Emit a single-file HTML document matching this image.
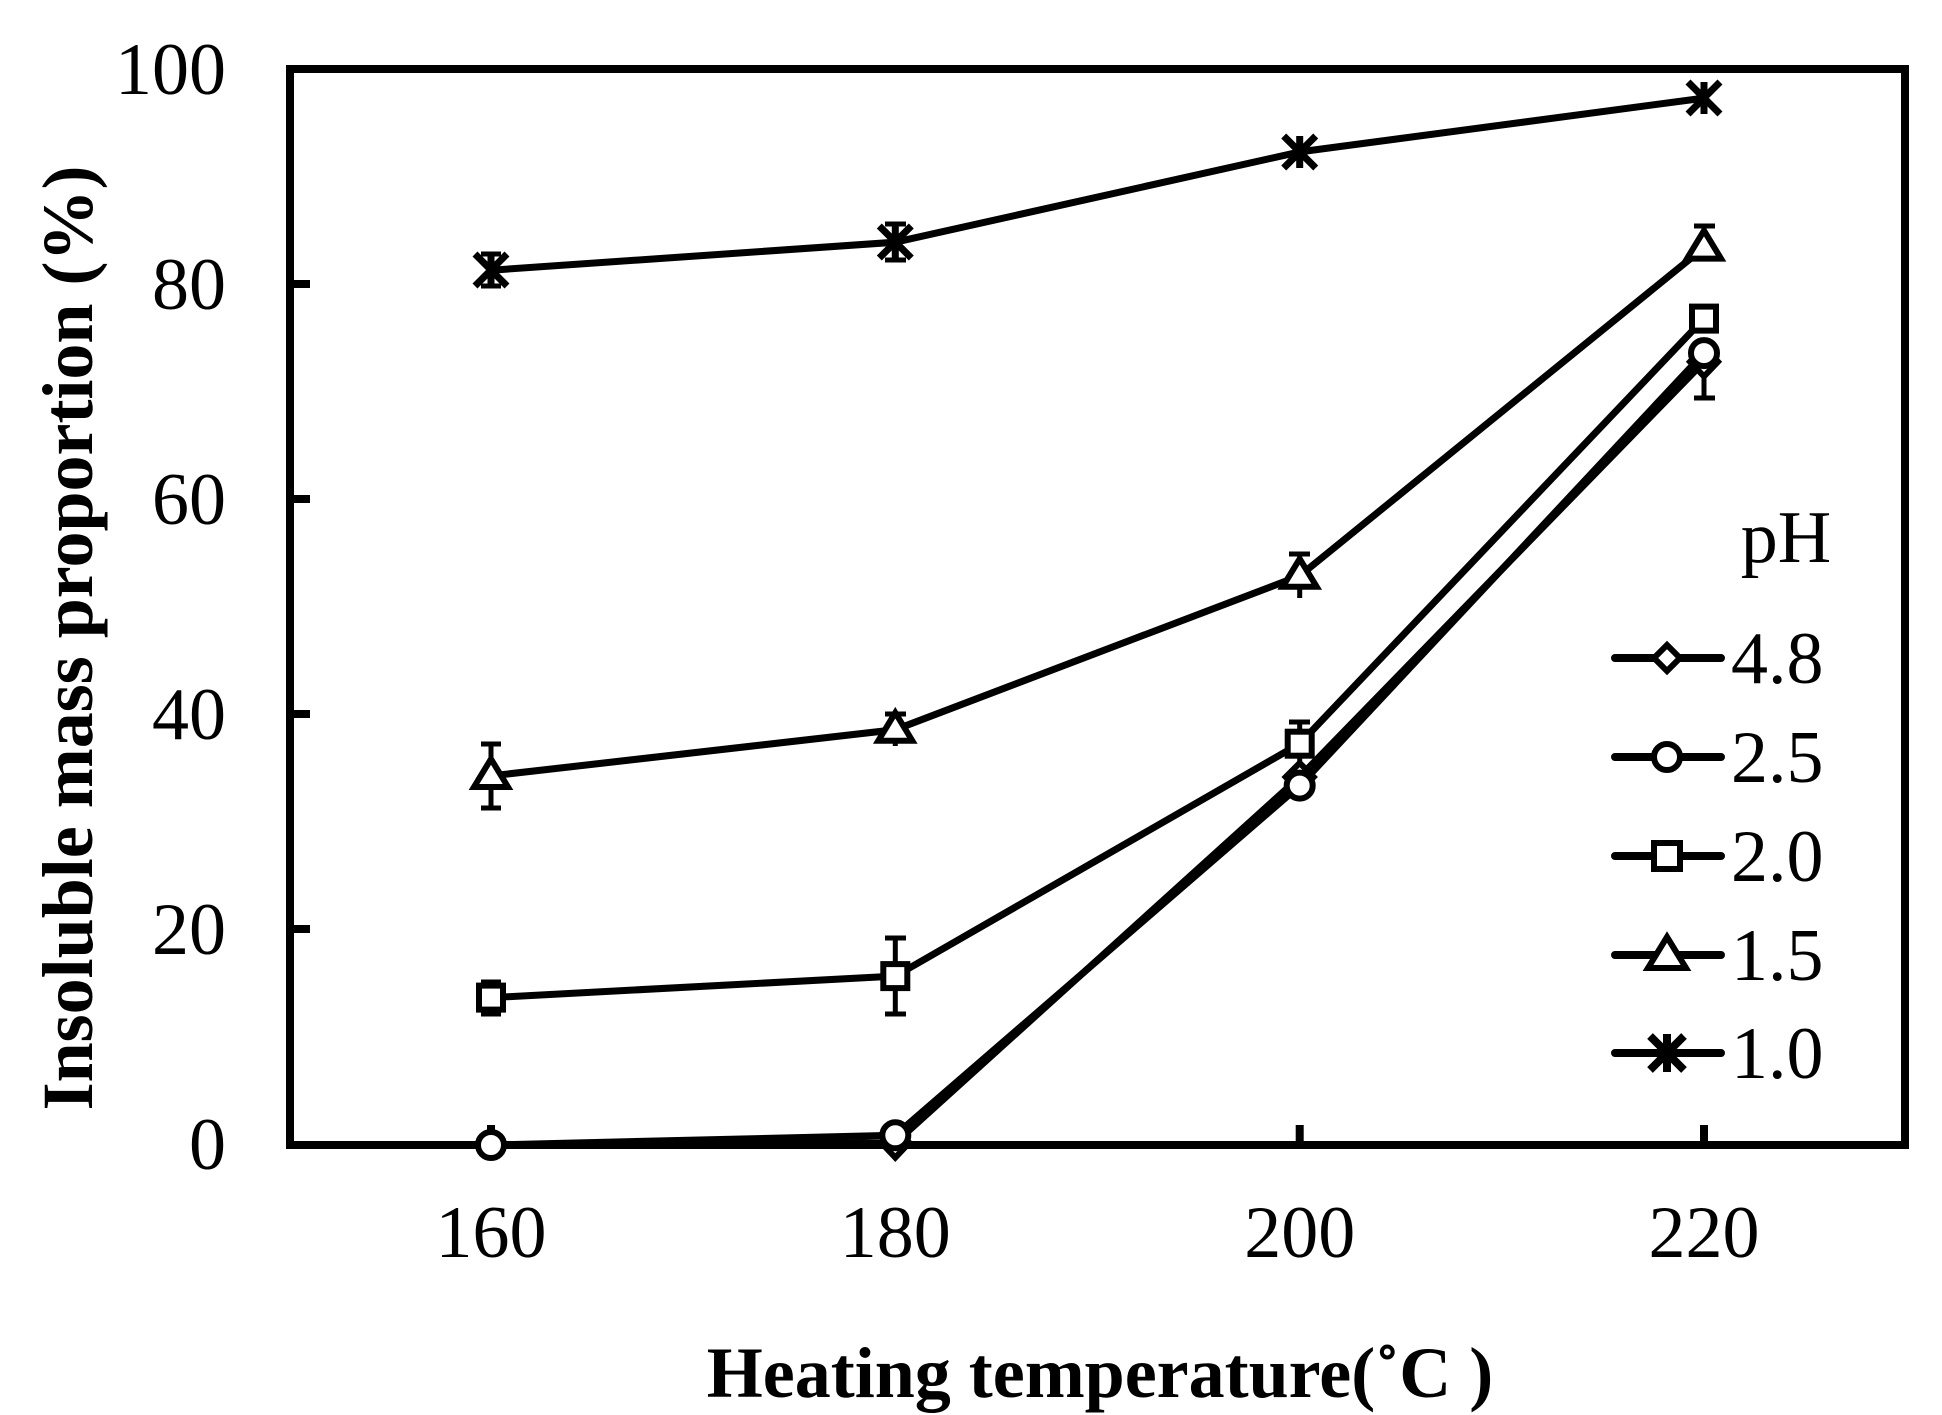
<!DOCTYPE html>
<html><head><meta charset="utf-8"><style>body{margin:0;background:#fff}svg{display:block}</style></head>
<body>
<svg width="1942" height="1415" viewBox="0 0 1942 1415" xmlns="http://www.w3.org/2000/svg" font-family="Liberation Serif, serif">
<rect width="1942" height="1415" fill="#fff"/>
<g stroke="#000" stroke-width="8" fill="none">
<rect x="290" y="69" width="1615" height="1076"/>
<path d="M290 284h20M290 499h20M290 714h20M290 929h20M491 1145v-20M895.3 1145v-20M1299.7 1145v-20M1704 1145v-20"/>
</g>
<g font-size="74" fill="#000" text-anchor="end">
<text x="226" y="94">100</text><text x="226" y="309">80</text><text x="226" y="524">60</text><text x="226" y="739">40</text><text x="226" y="954">20</text><text x="226" y="1169">0</text>
</g>
<g font-size="74" fill="#000" text-anchor="middle">
<text x="491" y="1257">160</text><text x="895.3" y="1257">180</text><text x="1299.7" y="1257">200</text><text x="1704" y="1257">220</text>
</g>
<text x="1100" y="1397" font-size="72" font-weight="bold" text-anchor="middle">Heating temperature(˚C )</text>
<text transform="translate(92,638) rotate(-90)" font-size="72" font-weight="bold" text-anchor="middle">Insoluble mass proportion (%)</text>
<g stroke="#000" stroke-width="7" fill="none" stroke-linejoin="round">
<polyline points="491,270.2 895.3,242.2 1299.7,151.9 1704,98.1"/>
<polyline points="491,775.9 895.3,729.7 1299.7,575.8 1704,247.6"/>
<polyline points="491,997.6 895.3,976.1 1299.7,743.7 1704,318.6"/>
<polyline points="491,1145 895.3,1135.3 1299.7,785.6 1704,353.1"/>
<polyline points="491,1145 895.3,1142.8 1299.7,777 1704,361.7"/>
</g>
<g stroke="#000" stroke-width="5" fill="none">
<path d="M491 254v32M481 254h20M481 286h20"/>
<path d="M895.3 224v36M885 224h21M885 260h21"/>
<path d="M491 744v64M481 744h20M481 808h20"/>
<path d="M895.3 714v32M885 714h21"/>
<path d="M1299.7 554v44M1289 554h21"/>
<path d="M1704 226v22M1694 226h21"/>
<path d="M491 982v32M481 982h20M481 1014h20"/>
<path d="M895.3 938v76M885 938h21M885 1014h21"/>
<path d="M1299.7 722v44M1289 722h21"/>
<path d="M1704 362v36M1694 398h21"/>
</g>
<g stroke="#000" stroke-width="6" fill="#fff">
<path d="M895.3 1128l14 14.8-14 14.8-14-14.8z"/>
<path d="M1299.7 763l14 14-14 14-14-14z"/>
<path d="M1704 347l14 14.7-14 14.7-14-14.7z"/>
<circle cx="491" cy="1145" r="13"/><circle cx="895.3" cy="1135.3" r="13"/><circle cx="1299.7" cy="785.6" r="13"/><circle cx="1704" cy="353.1" r="13"/>
<rect x="479" y="985.6" width="24" height="24"/><rect x="883.3" y="964.1" width="24" height="24"/><rect x="1287.7" y="731.7" width="24" height="24"/><rect x="1692" y="306.6" width="24" height="24"/>
<path d="M491 759l17 28h-34z"/><path d="M895.3 712.7l17 28h-34z"/><path d="M1299.7 558.8l17 28h-34z"/><path d="M1704 230.6l17 28h-34z"/>
</g>
<g stroke="#000" stroke-width="7" fill="none">
<path d="M475 254l32 32M507 254l-32 32M491 254v32"/>
<path d="M879.3 226l32 32M911.3 226l-32 32M895.3 226v32"/>
<path d="M1283.7 136l32 32M1315.7 136l-32 32M1299.7 136v32"/>
<path d="M1688 82l32 32M1720 82l-32 32M1704 82v32"/>
</g>
<text x="1786" y="562" font-size="74" text-anchor="middle">pH</text>
<g stroke="#000" stroke-width="8" fill="none" stroke-linecap="round">
<path d="M1615 658h106M1615 757h106M1615 856h106M1615 955h106M1615 1053h106"/>
</g>
<g stroke="#000" stroke-width="6" fill="#fff">
<path d="M1667 645l13 13-13 13-13-13z"/>
<circle cx="1667" cy="757" r="13"/>
<rect x="1654" y="843" width="26" height="26"/>
<path d="M1667 937l19 31h-38z"/>
</g>
<path d="M1650 1036l34 34M1684 1036l-34 34M1667 1034v38" stroke="#000" stroke-width="8" fill="none"/>
<g font-size="74" fill="#000">
<text x="1731" y="683">4.8</text><text x="1731" y="782">2.5</text><text x="1731" y="881">2.0</text><text x="1731" y="980">1.5</text><text x="1731" y="1078">1.0</text>
</g>
</svg>
</body></html>
